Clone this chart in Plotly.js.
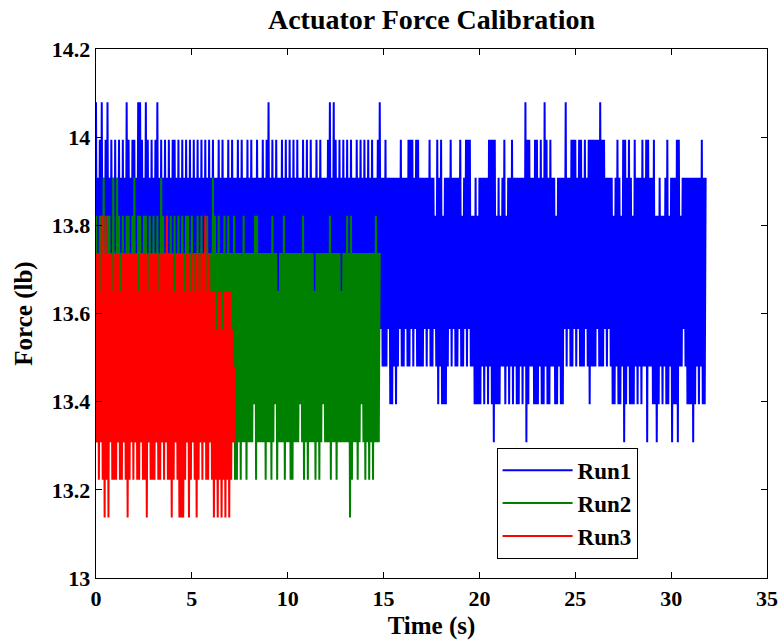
<!DOCTYPE html>
<html>
<head>
<meta charset="utf-8">
<script src="https://cdn.plot.ly/plotly-3.0.1.min.js"></script>
<style>
html,body{margin:0;padding:0;background:#fff;}
#chart{width:781px;height:643px;}
#chart svg text{font-family:"Liberation Serif","Times New Roman",serif !important;font-weight:bold !important;}
</style>
</head>
<body>
<div id="chart"></div>
<script>
// Quantised force levels (lb), indexed by code character
const levelCodes = "0123456789AB";
const forceLevels = [13.137, 13.223, 13.308, 13.394, 13.480, 13.565, 13.651, 13.737, 13.822, 13.908, 13.994, 14.079];
const sampleInterval = 0.05; // s between samples

// Each string = 1 s of samples (pairs high/low), values are level codes
const run1Codes = [
  "B4 95 A4 B5 94 A4 B5 94 A5 94",
  "A4 95 A5 94 A4 95 B4 A5 94 A5",
  "A4 95 B4 B5 A4 95 B4 A5 94 A4",
  "95 A4 B5 94 A4 95 A5 94 A4 95",
  "A4 A5 94 A4 95 A4 94 A5 95 A4",
  "94 A5 95 A4 94 A4 95 A5 94 A4",
  "95 A4 94 95 A4 95 A5 94 95 A4",
  "94 A5 94 95 A4 94 A5 95 94 A4",
  "95 A4 95 94 A5 94 95 A4 94 A5",
  "B4 95 A4 94 A5 94 95 A4 94 A5",
  "94 A5 95 A4 94 A5 94 95 A4 95",
  "A4 94 A5 95 94 A4 95 A4 94 95",
  "94 A5 B4 95 B4 A5 94 A4 95 A4",
  "95 A4 94 A5 95 94 A4 95 A5 94",
  "A4 95 A4 94 A5 94 95 A4 B5 94",
  "94 A4 95 93 93 94 93 94 95 A4",
  "94 95 94 A4 A5 A4 95 A4 A4 94",
  "94 95 94 95 A4 94 95 84 A3 94",
  "A3 83 93 94 95 A4 95 94 94 95",
  "A4 84 95 A4 A5 A4 84 83 93 83",
  "93 94 93 94 93 A4 A3 A2 A3 83",
  "93 84 94 A3 84 93 94 A3 94 93",
  "93 94 93 94 B2 A3 A4 94 93 A3",
  "A3 94 A3 93 B4 A3 93 A4 94 93",
  "83 94 93 93 95 B4 95 94 A4 A5",
  "A4 95 A4 A4 94 A5 94 A3 A4 A4",
  "A4 A5 A4 B4 A4 A5 94 95 94 93",
  "83 94 A3 93 84 A2 A3 94 A3 93",
  "83 A4 93 94 93 A4 94 A2 A4 94",
  "93 A3 82 83 94 83 84 93 A3 84",
  "92 93 93 A2 A4 84 95 94 93 93",
  "93 92 93 94 93 94 A3 93 9"
];
const run2Codes = [
  "82 72 83 82 92 72 82 83 72 92",
  "72 92 82 73 82 72 82 82 73 82",
  "92 72 82 82 72 83 82 72 82 72",
  "82 72 82 73 92 82 72 82 72 82",
  "62 82 72 82 73 82 72 82 82 72",
  "82 72 73 82 72 82 72 72 82 72",
  "72 92 82 72 82 73 72 82 72 82",
  "72 72 81 71 72 71 72 82 71 72",
  "72 72 73 81 82 72 72 72 71 72",
  "72 71 82 73 71 62 72 72 81 72",
  "72 71 71 72 72 72 73 72 81 72",
  "71 72 72 72 61 72 71 72 73 72",
  "72 72 81 72 72 71 72 72 62 72",
  "72 82 70 81 72 72 71 72 73 72",
  "71 72 71 72 71 72 82 72 7"
];
const run3Codes = [
  "72 71 62 81 70 81 70 72 71 61",
  "71 72 71 61 72 71 70 71 72 71",
  "72 71 61 72 71 71 70 62 71 71",
  "71 72 71 61 72 71 72 81 71 70",
  "71 62 71 70 70 70 61 72 70 61",
  "72 61 70 71 62 71 72 81 61 72",
  "61 60 61 50 61 60 51 60 61 60",
  "61 52 42"
];

const seriesNames = ["Run1", "Run2", "Run3"];
const seriesColors = ["#0000FF", "#008000", "#FF0000"];
const xTicks = [0, 5, 10, 15, 20, 25, 30, 35];
const yTicks = [13, 13.2, 13.4, 13.6, 13.8, 14, 14.2];
const yTickText = ["13", "13.2", "13.4", "13.6", "13.8", "14", "14.2"];

function decode(chunks) {
  const s = chunks.join("").replace(/\s/g, "");
  const y = [], x = [];
  for (let i = 0; i < s.length; i++) {
    y.push(forceLevels[levelCodes.indexOf(s[i])]);
    x.push(+(i * sampleInterval).toFixed(4));
  }
  return {x, y};
}

const runs = [run1Codes, run2Codes, run3Codes];
const traces = runs.map((codes, k) => {
  const d = decode(codes);
  return {
    x: d.x, y: d.y, type: "scatter", mode: "lines", name: seriesNames[k],
    line: {color: seriesColors[k], width: 2},
    hoverinfo: "skip"
  };
});

const baseFont = {family: "Liberation Serif", color: "#000", weight: "bold"};
const layout = {
  width: 781, height: 643,
  margin: {l: 96, r: 14, t: 49, b: 65, pad: 0},
  paper_bgcolor: "#fff", plot_bgcolor: "#fff",
  font: baseFont,
  showlegend: true,
  title: {text: "Actuator Force Calibration", font: Object.assign({}, baseFont, {size: 28}),
          x: 0.5, xref: "paper", xanchor: "center", y: 1 - 19/643, yref: "container", yanchor: "middle"},
  xaxis: {
    range: [0, 35], tickvals: xTicks, ticks: "inside", ticklen: 6, tickcolor: "#000", tickwidth: 1,
    showline: true, linecolor: "#000", linewidth: 1.3, mirror: "ticks", showgrid: false, zeroline: false,
    tickfont: Object.assign({}, baseFont, {size: 22}),
    title: {text: "Time (s)", font: Object.assign({}, baseFont, {size: 25}), standoff: 6},
    automargin: false
  },
  yaxis: {
    range: [13, 14.2], tickvals: yTicks, ticktext: yTickText, ticks: "inside", ticklen: 6, tickcolor: "#000", tickwidth: 1,
    showline: true, linecolor: "#000", linewidth: 1.3, mirror: "ticks", showgrid: false, zeroline: false,
    tickfont: Object.assign({}, baseFont, {size: 22}),
    title: {text: "Force (lb)", font: Object.assign({}, baseFont, {size: 25}), standoff: 12},
    automargin: false
  },
  legend: {
    x: 0.597, y: 0.2463, xanchor: "left", yanchor: "top",
    bgcolor: "#fff", bordercolor: "#000", borderwidth: 1,
    font: Object.assign({}, baseFont, {size: 23}),
    itemwidth: 70,
    traceorder: "normal"
  },
  hovermode: false
};

Plotly.newPlot("chart", traces, layout, {displayModeBar: false, staticPlot: true});
</script>
</body>
</html>
